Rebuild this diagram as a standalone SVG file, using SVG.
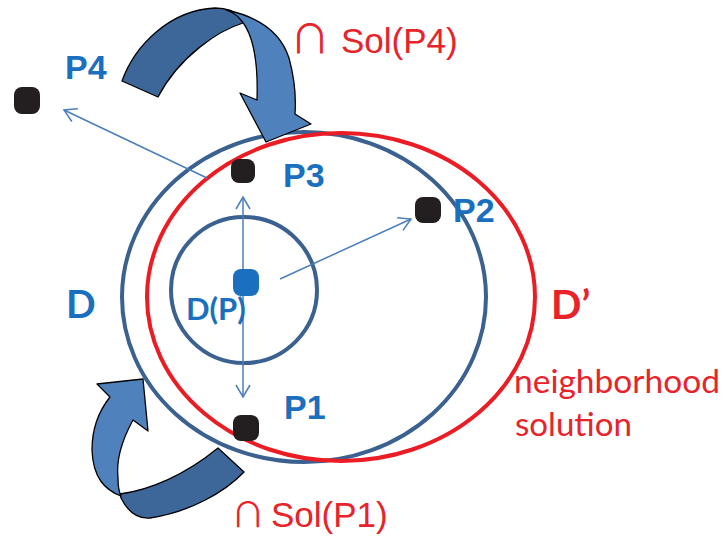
<svg xmlns="http://www.w3.org/2000/svg" width="725" height="538" viewBox="0 0 725 538">
<defs>
<style>
.lbl{font-family:"Liberation Sans",Arial,sans-serif;font-weight:bold;font-size:34px;fill:#1a6fbf}
.cal{font-family:Lato,"Open Sans",sans-serif;font-weight:bold;fill:#1a6fbf}
.red{fill:#e8232a}
.sol{font-family:"Liberation Sans",Arial,sans-serif;font-size:35px;fill:#e8232a}
.cap{font-family:"Noto Sans CJK SC","DejaVu Sans",sans-serif;fill:#e8232a}
.nb{font-family:Lato,"Open Sans",sans-serif;font-size:32px;fill:#e8232a}
.dot{fill:#231f20}
.conn{stroke:#4a7ebb;stroke-width:1.5;fill:none;marker-end:url(#ah)}
.dk{fill:#3d6799;stroke:#000;stroke-width:1.3;stroke-linejoin:round}
.lt{fill:#4f81bd;stroke:#000;stroke-width:1.3;stroke-linejoin:round}
</style>
<marker id="ah" viewBox="0 0 14 16" refX="13" refY="8" markerWidth="14" markerHeight="16" markerUnits="userSpaceOnUse" orient="auto">
<path d="M1,1 L13,8 L1,15" fill="none" stroke="#4a7ebb" stroke-width="1.5"/>
</marker>
</defs>
<rect width="725" height="538" fill="#fff"/>

<g id="D">
<ellipse cx="304" cy="297" rx="182" ry="165" fill="none" stroke="#3b6190" stroke-width="4"/>
<text class="cal" x="66" y="318" font-size="39">D</text>
</g>
<g id="Dprime">
<ellipse cx="341" cy="297" rx="194" ry="164" fill="none" stroke="#ec1c24" stroke-width="4"/>
<text class="cal red" x="551" y="319" font-size="40">D’</text>
<text class="nb" x="514" y="393" textLength="206" lengthAdjust="spacingAndGlyphs">neighborhood</text>
<text class="nb" x="515" y="436" textLength="117" lengthAdjust="spacingAndGlyphs">solution</text>
</g>
<g id="DP">
<circle cx="244" cy="290" r="73" fill="none" stroke="#3b6190" stroke-width="4"/>
</g>

<g id="connectors">
<line class="conn" x1="243" y1="270" x2="243" y2="197"/>
<line class="conn" x1="243" y1="296" x2="243" y2="397"/>
<line class="conn" x1="280" y1="279" x2="411" y2="219"/>
<line class="conn" x1="207" y1="178" x2="64" y2="110"/>
</g>

<g id="P">
<rect x="233" y="269" width="26" height="27" rx="8" fill="#1a6fbf"/>
<text class="cal" x="186" y="320" font-size="31">D(P)</text>
</g>
<g id="P1">
<rect x="233" y="415" width="26" height="26" rx="8" class="dot"/>
<text class="lbl" x="284" y="419">P1</text>
</g>
<g id="P2">
<rect x="415" y="197" width="26" height="26" rx="8" class="dot"/>
<text class="lbl" x="453" y="222">P2</text>
</g>
<g id="P3">
<rect x="231" y="159" width="24" height="24" rx="8" class="dot"/>
<text class="lbl" x="283" y="187">P3</text>
</g>
<g id="P4">
<rect x="14" y="87" width="26" height="27" rx="8" class="dot"/>
<text class="lbl" x="65" y="79">P4</text>
</g>

<g id="curved-arrow-top">
<path class="dk" d="M122,81 C135,45 170,10 215,8 C228,8 236,12 241,18 L243,23 C220,30 180,55 158,97 Z"/>
<path class="lt" d="M226,10 C255,16 280,30 289,58 C295,80 296,100 295,114 L311,124 L266,142 L240,93 L257,100 C258,70 255,35 240,19 C236,14 232,12 226,10 Z"/>
<text class="cap" x="290" y="53" font-size="40">∩</text>
<text class="sol" x="341" y="53">Sol(P4)</text>
</g>
<g id="curved-arrow-bottom">
<path class="dk" d="M218,448 L244,472 C225,492 190,512 150,518 C138,519 128,512 121,498 L120,494 C150,490 185,475 218,448 Z"/>
<path class="lt" d="M121,496 C105,490 93,478 92,450 C92,430 98,412 110,397 L97,384 L143,379 L148,431 L133,420 C122,440 116,460 118,478 C118,486 119,492 121,496 Z"/>
<text class="cap" x="231" y="527" font-size="34">∩</text>
<text class="sol" x="271" y="527">Sol(P1)</text>
</g>
</svg>
